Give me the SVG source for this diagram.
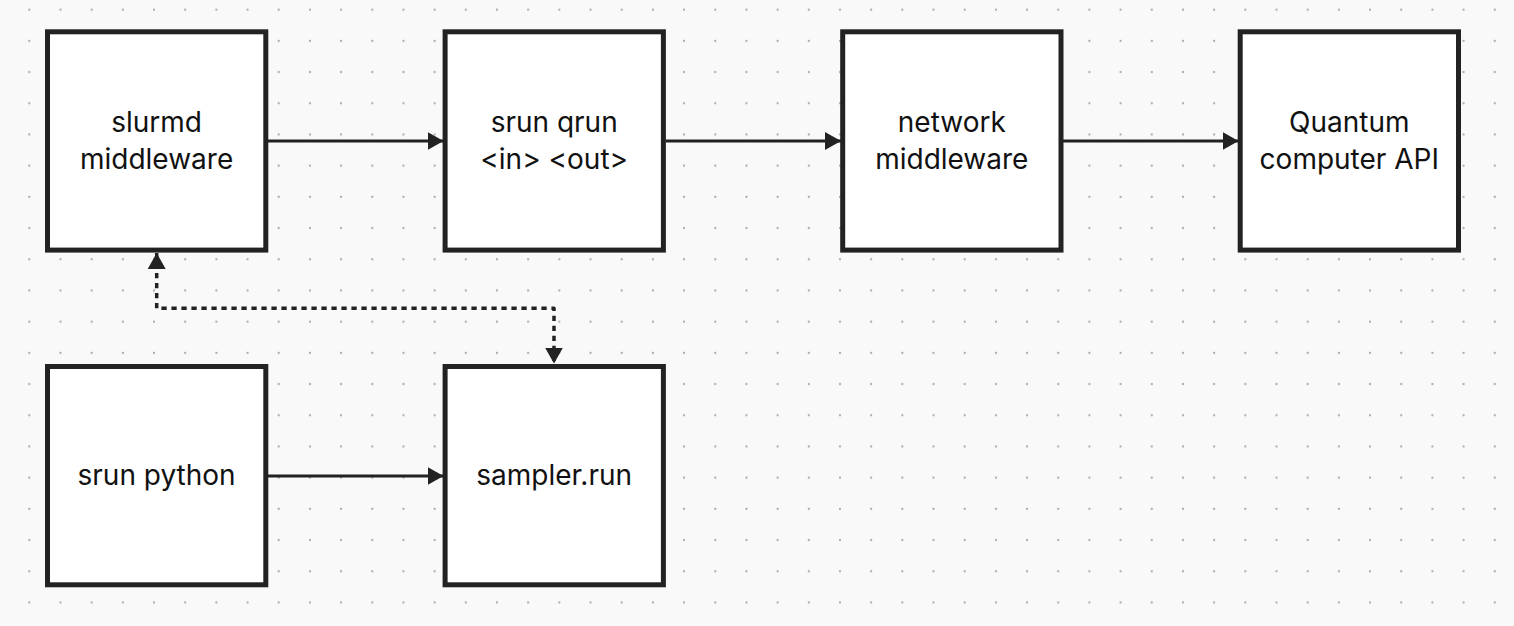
<svg xmlns="http://www.w3.org/2000/svg" width="1514" height="626" viewBox="0 0 1514 626">
<defs>
<pattern id="dots" x="29.3" y="9.7" width="31.18" height="31.2" patternUnits="userSpaceOnUse">
<circle cx="0" cy="0" r="1.1" fill="#a8a8a8"/><circle cx="31.18" cy="0" r="1.1" fill="#a8a8a8"/><circle cx="0" cy="31.2" r="1.1" fill="#a8a8a8"/><circle cx="31.18" cy="31.2" r="1.1" fill="#a8a8a8"/>
</pattern>
<marker id="arrow" viewBox="0 0 16 18" refX="16" refY="9" markerWidth="16" markerHeight="18" markerUnits="userSpaceOnUse" orient="auto">
<path d="M0,0 L16,9 L0,18 Z" fill="#222"/>
</marker>
<marker id="arrowStart" viewBox="0 0 16 18" refX="16" refY="9" markerWidth="16" markerHeight="18" markerUnits="userSpaceOnUse" orient="auto-start-reverse">
<path d="M0,0 L16,9 L0,18 Z" fill="#222"/>
</marker>
</defs>
<style>
.node rect{fill:#fff;stroke:#222;stroke-width:5}
.node text{font-family:Inter,"Liberation Sans",sans-serif;font-size:28px;fill:#111;text-anchor:middle}
.conn{fill:none;stroke:#222;stroke-width:3}
.dotted{stroke-dasharray:5.3 4.7;stroke-width:3.5;stroke-linejoin:round}
</style>
<rect x="0" y="0" width="1514" height="626" fill="#f9f9f9"/>
<rect x="0" y="0" width="1514" height="626" fill="url(#dots)"/>
<g id="connectors">
<path class="conn" d="M268,141 L443.5,141" marker-end="url(#arrow)"/>
<path class="conn" d="M665.5,141 L841,141" marker-end="url(#arrow)"/>
<path class="conn" d="M1063,141 L1238.5,141" marker-end="url(#arrow)"/>
<path class="conn" d="M268,476 L443.5,476" marker-end="url(#arrow)"/>
<path class="conn dotted" d="M156.7,253 L156.7,308.3 L554,308.3 L554,363.5" marker-start="url(#arrowStart)" marker-end="url(#arrow)"/>
</g>
<g id="node-slurmd" class="node">
<rect x="47.5" y="31.8" width="218.3" height="218.3"/>
<text x="156.6" y="132">slurmd</text>
<text x="156.6" y="169">middleware</text>
</g>
<g id="node-srun-qrun" class="node">
<rect x="445.1" y="31.8" width="218.3" height="218.3"/>
<text x="554.2" y="132">srun qrun</text>
<text x="554.2" y="169">&lt;in&gt; &lt;out&gt;</text>
</g>
<g id="node-network" class="node">
<rect x="842.7" y="31.8" width="218.3" height="218.3"/>
<text x="951.8" y="132">network</text>
<text x="951.8" y="169">middleware</text>
</g>
<g id="node-quantum" class="node">
<rect x="1240.2" y="31.8" width="218.3" height="218.3"/>
<text x="1349.3" y="132">Quantum</text>
<text x="1349.3" y="169">computer API</text>
</g>
<g id="node-srun-python" class="node">
<rect x="47.5" y="366.5" width="218.3" height="218.3"/>
<text x="156.6" y="485">srun python</text>
</g>
<g id="node-sampler" class="node">
<rect x="445.1" y="366.5" width="218.3" height="218.3"/>
<text x="554.2" y="485">sampler.run</text>
</g>
</svg>
